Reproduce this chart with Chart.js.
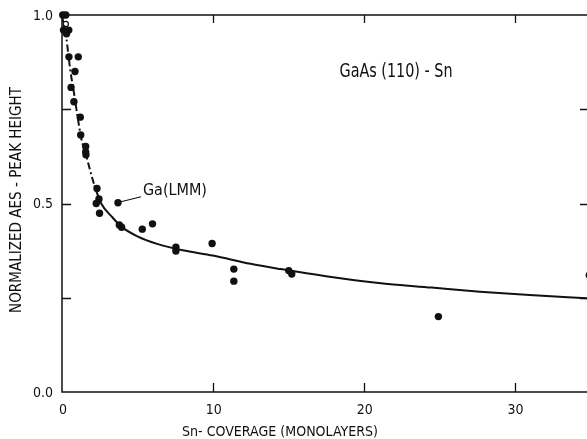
<!DOCTYPE html>
<html>
<head>
<meta charset="utf-8">
<title>GaAs(110)-Sn AES peak height</title>
<script src="https://cdn.jsdelivr.net/npm/chart.js@4/dist/chart.umd.min.js"></script>
<style>
  html, body { margin: 0; padding: 0; background: #fff; overflow: hidden; }
  #wrap { width: 587px; height: 439px; }
</style>
</head>
<body>
<div id="wrap"><canvas id="chart" width="587" height="439"></canvas></div>
<script>
/* Ga(LMM) Auger peak height vs. Sn coverage on GaAs(110) */

// measured points: coverage (monolayers) / normalized peak height
const coverage = [
  0.05, 0.25, 0.1, 0.45, 0.3, 0.46, 1.08, 0.86, 0.6, 0.79, 1.21, 1.24,
  1.57, 1.57, 1.59, 2.32, 2.45, 2.27, 2.49, 3.71, 3.8, 3.95, 5.32, 6.0,
  7.55, 7.55, 9.95, 11.39, 11.39, 15.03, 15.23, 24.95, 34.95
];
const peakHeight = [
  1.0, 1.0, 0.96, 0.96, 0.95, 0.889, 0.889, 0.85, 0.808, 0.77, 0.729, 0.682,
  0.651, 0.637, 0.629, 0.54, 0.512, 0.5, 0.474, 0.502, 0.443, 0.437, 0.432, 0.446,
  0.384, 0.374, 0.394, 0.326, 0.294, 0.322, 0.313, 0.2, 0.31
];

// open circle
const openCoverage = [0.25];
const openHeight = [0.976];

// trend curve drawn through the data
const curveCoverage = [
  0, 0.15, 0.3, 0.45, 0.6, 0.75, 0.9, 1.1, 1.3, 1.55, 1.85, 2.15, 2.6,
  3.3, 3.95, 5, 6.3, 8, 10, 12.5, 14.5, 17.5, 21, 24.5, 27.7, 31, 34.8
];
const curveHeight = [
  1.0, 0.965, 0.935, 0.885, 0.84, 0.805, 0.765, 0.713, 0.668, 0.635, 0.59, 0.548, 0.5,
  0.465, 0.438, 0.413, 0.393, 0.376, 0.362, 0.34, 0.326, 0.307, 0.289, 0.277, 0.266, 0.257, 0.249
];
const dashedUntil = 2.2;   // steep part of the curve is dash-dotted

// axes
const xMax = 34.8;
const xTickValues = [0, 10, 20, 30];
const xTickLabels = ['0', '10', '20', '30'];
const yTickValues = [0, 0.5, 1.0];
const yTickLabels = ['0.0', '0.5', '1.0'];
const xInnerTicks = [10, 20, 30];
const yInnerTicks = [0.25, 0.5, 0.75];

const titleText = 'GaAs (110) - Sn';
const xTitle = 'Sn- COVERAGE (MONOLAYERS)';
const yTitle = 'NORMALIZED AES - PEAK HEIGHT';
const pointNote = 'Ga(LMM)';
const notedIndex = 19;

const FONT = '"DejaVu Sans Condensed", "Liberation Sans Narrow", "DejaVu Sans", sans-serif';
const INK = '#111';

const xy = (xs, ys) => xs.map((x, i) => ({ x, y: ys[i] }));

// centred text squeezed or stretched to a given width
function fitText(ctx, text, cx, cy, width) {
  const w = ctx.measureText(text).width;
  ctx.save();
  ctx.translate(cx, cy);
  ctx.scale(width / w, 1);
  ctx.textAlign = 'center';
  ctx.fillText(text, 0, 0);
  ctx.restore();
}

/* ── frame, ticks and texts ───────────────────────────── */

const framePlugin = {
  id: 'frame',
  beforeDatasetsDraw(chart) {
    const { ctx, chartArea: a, scales: { x, y } } = chart;
    ctx.save();
    ctx.strokeStyle = INK;
    ctx.lineWidth = 1.5;
    ctx.beginPath();
    ctx.moveTo(a.left, a.top);
    ctx.lineTo(a.right, a.top);
    ctx.moveTo(a.left, a.top);
    ctx.lineTo(a.left, a.bottom);
    ctx.lineTo(a.right, a.bottom);
    ctx.stroke();

    ctx.lineWidth = 1.3;
    ctx.beginPath();
    xInnerTicks.forEach(v => {
      const px = Math.round(x.getPixelForValue(v)) + 0.5;
      ctx.moveTo(px, a.bottom);
      ctx.lineTo(px, a.bottom - 9);
      ctx.moveTo(px, a.top);
      ctx.lineTo(px, a.top + 8);
    });
    yInnerTicks.forEach(v => {
      const py = Math.round(y.getPixelForValue(v)) + 0.5;
      ctx.moveTo(a.left, py);
      ctx.lineTo(a.left + 9, py);
      ctx.moveTo(a.right, py);
      ctx.lineTo(a.right - 7, py);
    });
    ctx.stroke();
    ctx.restore();
  },
  afterDraw(chart) {
    const { ctx, chartArea: a, scales: { x, y } } = chart;
    ctx.save();
    ctx.fillStyle = INK;

    ctx.font = '14px ' + FONT;
    ctx.textAlign = 'right';
    ctx.textBaseline = 'middle';
    yTickValues.forEach((v, i) => ctx.fillText(yTickLabels[i], a.left - 9, y.getPixelForValue(v) + 1));

    ctx.textAlign = 'center';
    ctx.textBaseline = 'top';
    xTickValues.forEach((v, i) => ctx.fillText(xTickLabels[i], x.getPixelForValue(v) + 1, a.bottom + 11));

    ctx.font = '14px ' + FONT;
    ctx.textBaseline = 'middle';
    fitText(ctx, xTitle, 280, 432, 196);

    ctx.save();
    ctx.translate(17, 200);
    ctx.rotate(-Math.PI / 2);
    ctx.font = '15px ' + FONT;
    fitText(ctx, yTitle, 0, 0, 226);
    ctx.restore();

    ctx.font = '19px ' + FONT;
    fitText(ctx, titleText, 396, 72, 113);

    // leader line and label for the Ga(LMM) point
    const px = x.getPixelForValue(coverage[notedIndex]);
    const py = y.getPixelForValue(peakHeight[notedIndex]);
    ctx.strokeStyle = INK;
    ctx.lineWidth = 1.2;
    ctx.beginPath();
    ctx.moveTo(px + 3, py - 1);
    ctx.lineTo(px + 23, py - 6);
    ctx.stroke();
    ctx.font = '15px ' + FONT;
    fitText(ctx, pointNote, px + 57, py - 12, 64);
    ctx.restore();
  }
};

new Chart(document.getElementById('chart'), {
  type: 'scatter',
  data: {
    datasets: [
      {
        data: xy(curveCoverage, curveHeight),
        showLine: true,
        pointRadius: 0,
        borderColor: INK,
        borderWidth: 2,
        cubicInterpolationMode: 'monotone',
        clip: false,
        segment: {
          borderDash: c => (c.p1.parsed.x <= dashedUntil ? [7, 3, 2, 3] : undefined)
        }
      },
      {
        data: xy(coverage, peakHeight),
        pointRadius: 3.7,
        pointBackgroundColor: INK,
        pointBorderWidth: 0,
        clip: false
      },
      {
        data: xy(openCoverage, openHeight),
        pointRadius: 2.6,
        pointBackgroundColor: '#fff',
        pointBorderColor: INK,
        pointBorderWidth: 1.2,
        clip: false
      }
    ]
  },
  options: {
    responsive: false,
    devicePixelRatio: 1,
    animation: false,
    layout: { autoPadding: false, padding: { left: 62, top: 15, right: 0, bottom: 47 } },
    plugins: { legend: { display: false }, tooltip: { enabled: false } },
    scales: {
      x: { type: 'linear', min: 0, max: xMax, display: false },
      y: { type: 'linear', min: 0, max: 1, display: false }
    }
  },
  plugins: [framePlugin]
});
</script>
</body>
</html>
